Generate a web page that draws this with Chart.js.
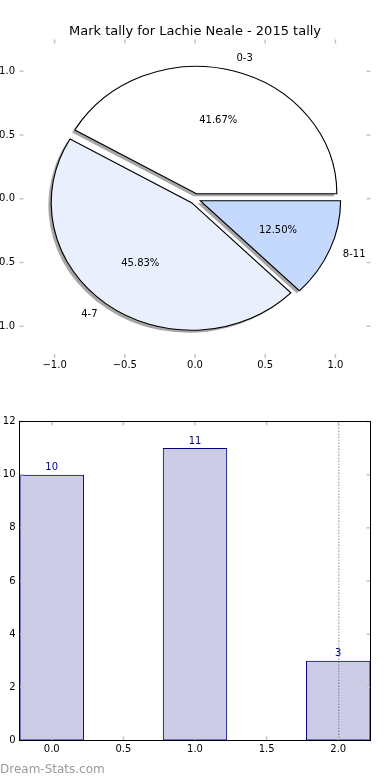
<!DOCTYPE html>
<html>
<head>
<meta charset="utf-8">
<title>Mark tally</title>
<script src="https://cdn.jsdelivr.net/npm/chart.js@4.4.1/dist/chart.umd.min.js"></script>
<style>
    body { margin: 0; background: #fff; }
    #page { position: relative; width: 390px; height: 780px; overflow: hidden; }
    #page canvas { position: absolute; left: 0; }
    #pie-chart { top: 0; }
    #bar-chart { top: 390px; }
    .credit {
        position: absolute; left: 0; top: 762px;
        font: 12px "DejaVu Sans", sans-serif; line-height: 14px; color: #999;
    }
</style>
</head>
<body>
<div id="page">
    <canvas id="pie-chart" width="390" height="390"></canvas>
    <canvas id="bar-chart" width="390" height="390"></canvas>
    <div class="credit">Dream-Stats.com</div>
</div>
<script>
// data
const TITLE = 'Mark tally for Lachie Neale - 2015 tally';
const BANDS = ['0-3', '4-7', '8-11'];
const COUNTS = [10, 11, 3];
const SLICE_COLOURS = ['#ffffff', '#e9effc', '#c5d8fd'];
const PIE_TICKS = [-1.0, -0.5, 0.0, 0.5, 1.0];
const BAR_X = [0, 1, 2];
const BAR_X_TICKS = [0.0, 0.5, 1.0, 1.5, 2.0];
const BAR_Y_TICKS = [0, 2, 4, 6, 8, 10, 12];
const MARKED_X = 2.0;

// matplotlib-ish pie geometry (data units)
const PIE_LIMIT = 1.25;
const EXPLODE = 0.04;
const SHADOW = -0.02;
const BAR_WIDTH = 0.45;
const FONT = '"DejaVu Sans", sans-serif';

const minus = s => s.replace('-', '\u2212');

document.addEventListener('DOMContentLoaded', function() {
    initPieChart();
    initBarChart();
});

// small grey tick marks pointing into the plot on all four sides
const innerTicks = {
    id: 'innerTicks',
    afterDraw(chart) {
        const {ctx, chartArea: a, scales} = chart;
        const len = 4;
        ctx.save();
        ctx.strokeStyle = '#c4c4c4';
        ctx.lineWidth = 1.5;
        ctx.beginPath();
        scales.x.ticks.forEach(t => {
            const px = scales.x.getPixelForValue(t.value);
            ctx.moveTo(px, a.top); ctx.lineTo(px, a.top + len);
            ctx.moveTo(px, a.bottom); ctx.lineTo(px, a.bottom - len);
        });
        scales.y.ticks.forEach(t => {
            const py = scales.y.getPixelForValue(t.value);
            ctx.moveTo(a.left, py); ctx.lineTo(a.left + len, py);
            ctx.moveTo(a.right, py); ctx.lineTo(a.right - len, py);
        });
        ctx.stroke();
        ctx.restore();
    }
};

// black box round the bar plot
const frame = {
    id: 'frame',
    afterDraw(chart) {
        const {ctx, chartArea: a} = chart;
        ctx.save();
        ctx.strokeStyle = '#000';
        ctx.lineWidth = 1;
        ctx.strokeRect(a.left, a.top, a.right - a.left, a.bottom - a.top);
        ctx.restore();
    }
};

// pie is drawn in data units of the x/y scales, so it comes out as an ellipse
const piePlot = {
    id: 'piePlot',
    beforeDatasetsDraw(chart) {
        const {ctx, scales: {x, y}} = chart;
        const arcs = chart.getDatasetMeta(0).data;
        const cx = x.getPixelForValue(0), cy = y.getPixelForValue(0);
        const ux = x.getPixelForValue(1) - cx, uy = cy - y.getPixelForValue(1);

        const place = (arc, dx, dy) => {
            const r = arc.outerRadius;
            const mid = (arc.startAngle + arc.endAngle) / 2;
            ctx.translate(cx, cy);
            ctx.scale(ux / r, -uy / r);
            ctx.translate(r * (EXPLODE * Math.cos(mid) + dx), r * (EXPLODE * Math.sin(mid) + dy));
            ctx.translate(-arc.x, -arc.y);
        };

        // shadows underneath everything
        arcs.forEach(arc => {
            ctx.save();
            place(arc, SHADOW, SHADOW);
            ctx.beginPath();
            ctx.moveTo(arc.x, arc.y);
            ctx.arc(arc.x, arc.y, arc.outerRadius, arc.startAngle, arc.endAngle);
            ctx.closePath();
            ctx.fillStyle = 'rgba(77,77,77,0.5)';
            ctx.fill();
            ctx.restore();
        });

        arcs.forEach(arc => {
            ctx.save();
            place(arc, 0, 0);
            arc.draw(ctx);
            ctx.restore();
        });
        return false;
    },
    afterDraw(chart) {
        const {ctx, scales: {x, y}} = chart;
        const arcs = chart.getDatasetMeta(0).data;
        const total = COUNTS.reduce((a, b) => a + b, 0);
        ctx.save();
        ctx.font = '10px ' + FONT;
        ctx.fillStyle = '#000';
        ctx.textBaseline = 'middle';
        arcs.forEach((arc, i) => {
            const mid = (arc.startAngle + arc.endAngle) / 2;
            const c = Math.cos(mid), s = Math.sin(mid);
            const lx = c * (EXPLODE + 1.1), ly = s * (EXPLODE + 1.1);
            ctx.textAlign = lx > 0 ? 'left' : 'right';
            ctx.fillText(BANDS[i], x.getPixelForValue(lx), y.getPixelForValue(ly));
            const px = c * (EXPLODE + 0.6), py = s * (EXPLODE + 0.6);
            ctx.textAlign = 'center';
            const pct = (COUNTS[i] / total * 100).toFixed(2) + '%';
            ctx.fillText(pct, x.getPixelForValue(px), y.getPixelForValue(py));
        });
        ctx.restore();
    }
};

// value above each bar
const barLabels = {
    id: 'barLabels',
    afterDatasetsDraw(chart) {
        const ctx = chart.ctx;
        const bars = chart.getDatasetMeta(0).data;
        ctx.save();
        ctx.font = '10px ' + FONT;
        ctx.fillStyle = '#000080';
        ctx.textAlign = 'center';
        ctx.textBaseline = 'bottom';
        bars.forEach((bar, i) => ctx.fillText(String(COUNTS[i]), bar.x, bar.y - 2));
        ctx.restore();
    }
};

function tickFont() {
    return { family: FONT, size: 10 };
}

function initPieChart() {
    const ctx = document.getElementById('pie-chart').getContext('2d');
    const axis = (position, fit) => ({
        type: 'linear',
        position: position,
        min: -PIE_LIMIT,
        max: PIE_LIMIT,
        grid: { display: false, drawTicks: false },
        border: { display: false },
        ticks: {
            font: tickFont(),
            color: '#000',
            padding: position === 'left' ? 4.5 : 1.5,
            autoSkip: false,
            maxRotation: 0,
            callback: v => minus(v.toFixed(1))
        },
        afterBuildTicks: s => { s.ticks = PIE_TICKS.map(value => ({value})); },
        afterFit: fit
    });
    // empty right-hand axis keeps the plot inset while the title stays centred on the canvas
    const spacer = axis('right', s => { s.width = 19.5; s.paddingTop = s.paddingBottom = 0; });
    spacer.ticks.display = false;

    new Chart(ctx, {
        type: 'pie',
        data: {
            labels: BANDS,
            datasets: [{
                data: COUNTS,
                backgroundColor: SLICE_COLOURS,
                borderColor: '#000',
                borderWidth: 1.3,
                borderJoinStyle: 'miter',
                offset: 0
            }]
        },
        options: {
            responsive: false,
            animation: false,
            events: [],
            rotation: 90,
            layout: { padding: 0 },
            plugins: {
                legend: { display: false },
                tooltip: { enabled: false },
                title: {
                    display: true,
                    text: TITLE,
                    color: '#000',
                    font: { family: FONT, size: 13, weight: 'normal' },
                    padding: { top: 23.5, bottom: 0.3 }
                }
            },
            scales: {
                x: axis('bottom', s => { s.height = 32; s.paddingLeft = s.paddingRight = 0; }),
                y: axis('left', s => { s.width = 19.5; s.paddingTop = s.paddingBottom = 0; }),
                yRight: spacer
            }
        },
        plugins: [piePlot, innerTicks]
    });
}

function initBarChart() {
    const ctx = document.getElementById('bar-chart').getContext('2d');
    // bar width in px comes from the smallest tick gap, so scale the percentage by it
    const tickStep = BAR_X_TICKS[1] - BAR_X_TICKS[0];

    new Chart(ctx, {
        type: 'bar',
        data: {
            datasets: [{
                data: BAR_X.map((x, i) => ({x: x, y: COUNTS[i]})),
                backgroundColor: 'rgba(0,0,128,0.2)',
                borderColor: '#000080',
                borderWidth: 1,
                borderSkipped: false,
                categoryPercentage: 1,
                barPercentage: BAR_WIDTH / tickStep
            }]
        },
        options: {
            responsive: false,
            animation: false,
            events: [],
            layout: { padding: { left: 0, right: 19.5, top: 31.5, bottom: 0 } },
            plugins: {
                legend: { display: false },
                tooltip: { enabled: false }
            },
            scales: {
                x: {
                    type: 'linear',
                    offset: false,
                    min: BAR_X[0] - BAR_WIDTH / 2,
                    max: BAR_X[BAR_X.length - 1] + BAR_WIDTH / 2,
                    grid: {
                        offset: false,
                        drawTicks: false,
                        lineWidth: 1.5,
                        color: c => (c.tick && c.tick.value === MARKED_X) ? '#b4b4b4' : 'rgba(0,0,0,0)'
                    },
                    border: { display: false, dash: [1.5, 1.5] },
                    ticks: {
                        font: tickFont(), color: '#000', padding: 3,
                        autoSkip: false, maxRotation: 0,
                        callback: v => v.toFixed(1)
                    },
                    afterBuildTicks: s => { s.ticks = BAR_X_TICKS.map(value => ({value})); },
                    afterFit: s => { s.height = 39.5; s.paddingLeft = s.paddingRight = 0; }
                },
                y: {
                    min: BAR_Y_TICKS[0],
                    max: BAR_Y_TICKS[BAR_Y_TICKS.length - 1],
                    grid: { display: false, drawTicks: false },
                    border: { display: false },
                    ticks: {
                        font: tickFont(), color: '#000', padding: 4,
                        autoSkip: false,
                        callback: v => String(v)
                    },
                    afterBuildTicks: s => { s.ticks = BAR_Y_TICKS.map(value => ({value})); },
                    afterFit: s => { s.width = 19.5; s.paddingTop = s.paddingBottom = 0; }
                }
            }
        },
        plugins: [barLabels, innerTicks, frame]
    });
}
</script>
</body>
</html>
